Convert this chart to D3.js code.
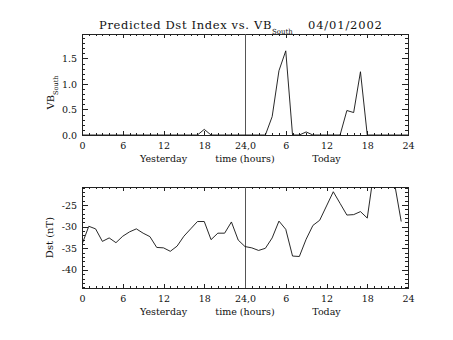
<!DOCTYPE html>
<html><head><meta charset="utf-8">
<script src="https://cdn.jsdelivr.net/npm/d3@7"></script>
<style>
html,body{margin:0;padding:0;background:#fff;}
svg{display:block;}
text{font-family:"DejaVu Serif",serif;fill:#111;}
</style></head>
<body>
<script>
// ---- data ----
const hourTicks = [0, 6, 12, 18, 24, 30, 36, 42, 48];
const hourTickLabels = ["0", "6", "12", "18", "24,0", "6", "12", "18", "24"];
const dayLabels = ["Yesterday", "time (hours)", "Today"];
const dayLabelHours = [12, 24, 36];

const vbHours = d3.range(0, 49);
const vbValues = [
  0,0,0,0,0,0,0,0,0,0,0,0,0,0,0,0,0,0,0.11,0,0,0,0,0,
  0,0,0,0,0.36,1.26,1.65,0,0,0.06,0,0,0,0,0,0.48,0.44,1.24,0,0,0,0,0,0,0
];
const vbTicks = [0, 0.5, 1.0, 1.5];
const vbTickLabels = ["0.0", "0.5", "1.0", "1.5"];

const dstHours = d3.range(0, 48);
const dstValues = [
  -34.1,-29.9,-30.5,-33.4,-32.6,-33.7,-32.2,-31.2,-30.5,-31.5,-32.3,-34.8,
  -34.9,-35.7,-34.5,-32.2,-30.5,-28.8,-28.8,-33.0,-31.5,-31.5,-28.9,-33.1,
  -34.6,-34.9,-35.5,-35.0,-32.6,-28.7,-30.6,-36.8,-36.9,-32.9,-29.7,-28.5,
  -25.2,-21.9,-24.6,-27.3,-27.2,-26.5,-28.0,-17.0,-15.0,-16.0,-19.8,-28.8
];
const dstTicks = [-40, -35, -30, -25];
const dstTickLabels = ["-40", "-35", "-30", "-25"];

const W = 453, H = 340;
const svg = d3.select("body").append("svg").attr("width", W).attr("height", H);

const x = d3.scaleLinear().domain([0, 48]).range([82, 408]);

function panel(cfg) {
  const y = d3.scaleLinear().domain(cfg.yDomain).range([cfg.bottom, cfg.top]);
  const g = svg.append("g");
  const clipId = "clip" + cfg.top;
  svg.append("clipPath").attr("id", clipId).append("rect")
    .attr("x", x.range()[0]).attr("y", cfg.top)
    .attr("width", x.range()[1] - x.range()[0]).attr("height", cfg.bottom - cfg.top);

  const minorX = d3.range(0, 49).filter(h => h % 6 !== 0);
  const axB = d3.axisBottom(x).tickValues(hourTicks).tickSize(-4).tickPadding(7)
    .tickFormat((d, i) => hourTickLabels[i]);
  const axT = d3.axisTop(x).tickValues(hourTicks).tickSize(-4).tickFormat("");
  const axBm = d3.axisBottom(x).tickValues(minorX).tickSize(-2).tickFormat("");
  const axTm = d3.axisTop(x).tickValues(minorX).tickSize(-2).tickFormat("");
  const axL = d3.axisLeft(y).tickValues(cfg.ticks).tickSize(-6).tickPadding(5)
    .tickFormat((d, i) => cfg.tickLabels[i]);
  const axR = d3.axisRight(y).tickValues(cfg.ticks).tickSize(-6).tickFormat("");
  const axLm = d3.axisLeft(y).tickValues(cfg.minor).tickSize(-3).tickFormat("");
  const axRm = d3.axisRight(y).tickValues(cfg.minor).tickSize(-3).tickFormat("");

  const add = (ax, tr) => {
    const a = g.append("g").attr("transform", tr).call(ax);
    a.select(".domain").remove();
    a.selectAll("line").attr("stroke", "#222").attr("shape-rendering", "crispEdges");
    a.selectAll("text").attr("font-size", 9.5).attr("font-family", "DejaVu Serif").attr("fill", "#111");
    return a;
  };
  add(axB, `translate(0,${cfg.bottom})`);
  add(axT, `translate(0,${cfg.top})`);
  add(axBm, `translate(0,${cfg.bottom})`);
  add(axTm, `translate(0,${cfg.top})`);
  add(axL, `translate(${x.range()[0]},0)`);
  add(axR, `translate(${x.range()[1]},0)`);
  add(axLm, `translate(${x.range()[0]},0)`);
  add(axRm, `translate(${x.range()[1]},0)`);

  g.append("rect").attr("x", x.range()[0] + 0.5).attr("y", cfg.top + 0.5)
    .attr("width", x.range()[1] - x.range()[0]).attr("height", cfg.bottom - cfg.top)
    .attr("fill", "none").attr("stroke", "#222").attr("stroke-width", 1);

  g.append("line").attr("x1", Math.round(x(24)) + 0.5).attr("x2", Math.round(x(24)) + 0.5)
    .attr("y1", cfg.top).attr("y2", cfg.bottom).attr("stroke", "#555").attr("stroke-width", 1);

  const line = d3.line().x((d, i) => x(cfg.hours[i])).y(d => y(d));
  g.append("path").datum(cfg.values).attr("d", line)
    .attr("clip-path", `url(#${clipId})`)
    .attr("fill", "none").attr("stroke", "#111").attr("stroke-width", 0.9);

  g.selectAll(".day").data(dayLabels).enter().append("text")
    .attr("x", (d, i) => x(dayLabelHours[i])).attr("y", cfg.bottom + 27)
    .attr("text-anchor", "middle").attr("font-size", 9.5).text(d => d);

  return {g, y};
}

panel({top: 34, bottom: 135, yDomain: [0, 1.98], ticks: vbTicks, tickLabels: vbTickLabels,
  minor: d3.range(0, 20).map(d => d / 10).filter(d => Math.round(d * 10) % 5 !== 0),
  hours: vbHours, values: vbValues});
panel({top: 187, bottom: 288, yDomain: [-44.2, -20.8], ticks: dstTicks, tickLabels: dstTickLabels,
  minor: d3.range(-44, -20).filter(d => d % 5 !== 0),
  hours: dstHours, values: dstValues});

const yt1 = svg.append("text").attr("transform", `translate(54,${(34 + 135) / 2 + 8}) rotate(-90)`)
  .attr("text-anchor", "middle").attr("font-size", 10);
yt1.append("tspan").text("VB");
yt1.append("tspan").attr("font-size", 6.5).attr("dy", 4).text("South");

svg.append("text").attr("transform", `translate(53,${(187 + 288) / 2}) rotate(-90)`)
  .attr("text-anchor", "middle").attr("font-size", 10).text("Dst (nT)");

const t = svg.append("text").attr("x", 99).attr("y", 28.5).attr("font-size", 11.5);
t.append("tspan").attr("letter-spacing", 0.65).text("Predicted Dst Index vs. VB");
t.append("tspan").attr("font-size", 7).attr("dy", 5).text("South");
svg.append("text").attr("x", 308).attr("y", 28.5).attr("font-size", 11.5)
  .attr("letter-spacing", 0.85).text("04/01/2002");
</script>
</body></html>
